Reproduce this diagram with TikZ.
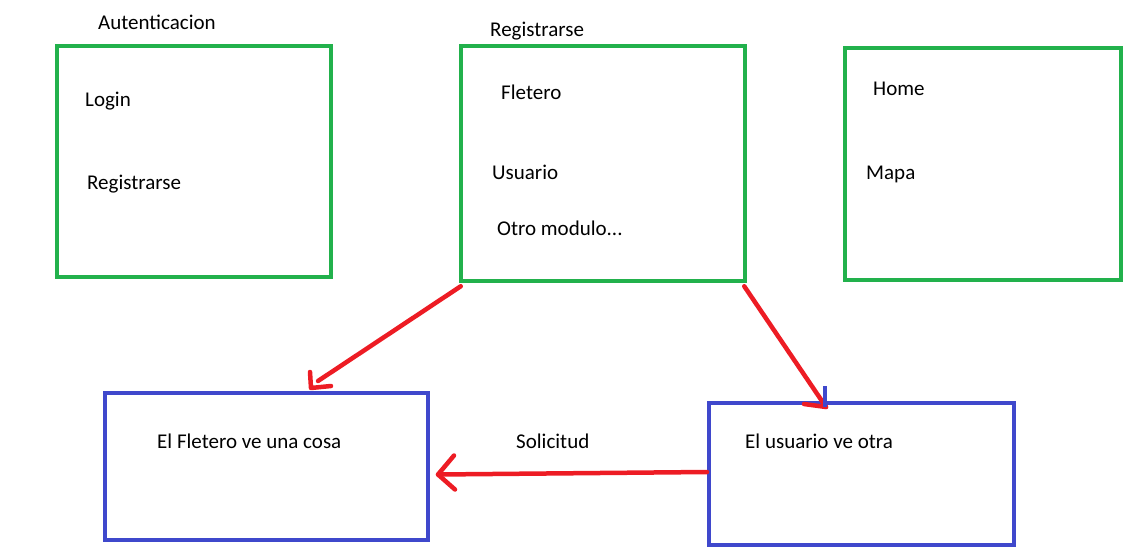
\documentclass[tikz,border=0pt]{standalone}
\usepackage{fontspec}
\setmainfont{Carlito}
\usetikzlibrary{calc}
\definecolor{pgreen}{HTML}{22B14C}
\definecolor{pred}{HTML}{ED1C24}
\definecolor{pblue}{HTML}{3F48CC}
\begin{document}
\begin{tikzpicture}[x=1pt,y=-1pt,
  gbox/.style={draw=pgreen,line width=4.5pt,rectangle,inner sep=0pt},
  bbox/.style={draw=pblue,line width=4pt,rectangle,inner sep=0pt},
  lbl/.style={anchor=base west,inner sep=0pt,font=\fontsize{21}{25}\selectfont},
  rline/.style={draw=pred,line width=4.5pt,line cap=round,line join=round}]
\useasboundingbox (0,0) rectangle (1145,546);
% green boxes
\node[gbox,minimum width=274pt,minimum height=231pt] (auth) at (194,161.5) {};
\node[gbox,minimum width=284pt,minimum height=235pt] (reg) at (603,163.5) {};
\node[gbox,minimum width=276pt,minimum height=232pt] (home) at (983,164) {};
% blue boxes
\node[bbox,minimum width=323pt,minimum height=147pt] (fle) at (266.5,466.5) {};
\node[bbox,minimum width=305pt,minimum height=142pt] (usu) at (861.5,474) {};
% labels
\node[lbl] (tauth) at (98,29) {Autenticacion};
\node[lbl] (tlogin) at (85,106) {Login};
\node[lbl] (treg1) at (87,189) {Registrarse};
\node[lbl] (treg) at (490,36) {Registrarse};
\node[lbl] (tfle) at (501,99) {Fletero};
\node[lbl] (tusu) at (492,179) {Usuario};
\node[lbl] (totro) at (497,235) {Otro modulo...};
\node[lbl] (thome) at (873,95) {Home};
\node[lbl] (tmapa) at (866,179) {Mapa};
\node[lbl] (tfv) at (157,448) {El Fletero ve una cosa};
\node[lbl] (tuv) at (745,448) {El usuario ve otra};
\node[lbl] (tsol) at (516,448) {Solicitud};
% arrow 1
\coordinate (t1) at ($(fle.north west)+(208,-3)$);
\draw[rline] ($(reg.south west)+(2,3)$) -- ($(fle.north west)+(215,-10)$);
\draw[rline] ($(fle.north west)+(207,-19)$) -- (t1) -- ($(fle.north west)+(228,-5)$);
% arrow 2
\coordinate (t2) at ($(usu.north west)+(119,6)$);
\draw[rline] ($(reg.south east)+(-3,3)$) -- (t2);
\draw[rline] ($(usu.north west)+(97,3)$) -- (t2);
\draw[pblue,line width=4pt] ($(usu.north west)+(118,-15)$) -- ($(usu.north west)+(118,6)$);
% arrow 3
\coordinate (t3) at ($(fle.east)+(8,8)$);
\draw[rline] ($(usu.west)+(0,-2)$) -- (t3);
\draw[rline] ($(t3)+(16,-19)$) -- (t3) -- ($(t3)+(17,15)$);
\end{tikzpicture}
\end{document}
